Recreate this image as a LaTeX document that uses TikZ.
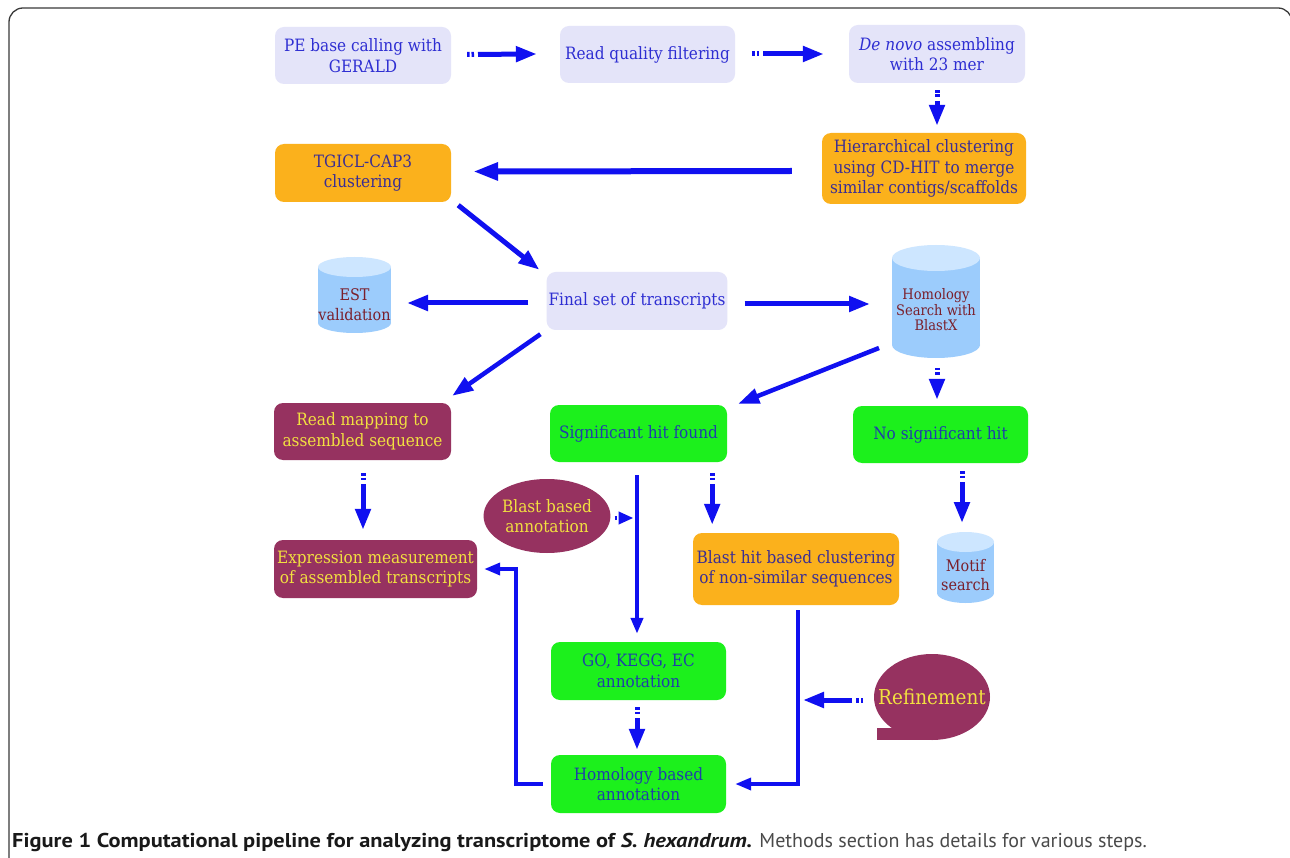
\documentclass[tikz,border=0pt]{standalone}
\usepackage{fontspec}
\setmainfont{DejaVu Serif}[FakeStretch=0.9]
\newfontfamily\capfont{PT Sans}
\newfontfamily\capwide{PT Sans}[FakeStretch=1.12]
\usetikzlibrary{arrows.meta,calc,shapes.geometric}
\definecolor{lav}{HTML}{E4E4F9}
\definecolor{lavtext}{HTML}{2E2ED2}
\definecolor{org}{HTML}{FBB11C}
\definecolor{orgtext}{HTML}{3B2E93}
\definecolor{grn}{HTML}{1CF01C}
\definecolor{grntext}{HTML}{1F3FA8}
\definecolor{mar}{HTML}{963260}
\definecolor{martext}{HTML}{F2E040}
\definecolor{cylbody}{HTML}{9CCCFC}
\definecolor{cyltop}{HTML}{CDE6FF}
\definecolor{cyltext}{HTML}{7A1F2B}
\definecolor{arrblue}{HTML}{1010F0}
\definecolor{framecol}{HTML}{3A3A3A}
\definecolor{capgray}{HTML}{4A4A4A}
\newcommand\drawcyl[5]{%
  \fill[cylbody] (#1,#3+#5) rectangle (#2,#4-#5);
  \fill[cylbody] ({(#1+#2)/2},#4-#5) ellipse [x radius={(#2-#1)/2}, y radius=#5];
  \fill[cyltop] ({(#1+#2)/2},#3+#5) ellipse [x radius={(#2-#1)/2}, y radius=#5];}
\begin{document}
\begin{tikzpicture}[x=1pt,y=-1pt,
  box/.style={rounded corners=9pt, align=center, inner sep=2pt,
    font=\fontsize{17}{20.5}\selectfont},
  lavbox/.style={box, fill=lav, text=lavtext},
  orgbox/.style={box, fill=org, text=orgtext},
  grnbox/.style={box, fill=grn, text=grntext},
  marbox/.style={box, fill=mar, text=martext},
  cyltxt/.style={align=center, text=cyltext, inner sep=1pt},
  conn/.style={draw=arrblue, line width=5pt, -{Triangle[length=21pt,width=15pt]}},
  thinconn/.style={draw=arrblue, line width=3.6pt, -{Triangle[length=16pt,width=12pt]}},
  dtail/.style={dash pattern=on 2.5pt off 1.8pt on 2.5pt off 4pt on 3000pt off 1pt},
]
\useasboundingbox (0,0) rectangle (1290,858);
\fill[white] (0,0) rectangle (1290,858);
\draw[framecol, line width=1.3pt, rounded corners=14pt] (9,866) -- (9,8) -- (1292,8) -- (1292,866);

% cylinders
\drawcyl{318}{391}{257}{333}{10}
\drawcyl{892}{980}{245}{358}{13}
\drawcyl{937}{994}{532}{603}{10}

% refinement bubble
\fill[mar] (932,697) ellipse [x radius=58, y radius=43];
\fill[mar] (877,728) rectangle (932,740);

% nodes
\node[lavbox, minimum width=176pt, minimum height=57pt] (n1) at (363,55.5) {PE base calling with\\GERALD};
\node[lavbox, minimum width=175pt, minimum height=57pt] (n2) at (647.5,54.5) {Read quality filtering};
\node[lavbox, minimum width=176pt, minimum height=58pt] (n3) at (937,54) {\textit{De novo} assembling\\with 23 mer};
\node[orgbox, minimum width=204pt, minimum height=71pt] (n4) at (924,168.5) {Hierarchical clustering\\using CD-HIT to merge\\similar contigs/scaffolds};
\node[orgbox, minimum width=176pt, minimum height=58pt] (n5) at (363,173) {TGICL-CAP3\\clustering};
\node[lavbox, minimum width=176pt, minimum height=58pt] (n6) at (637,301) {Final set of transcripts};
\node[cyltxt, font=\fontsize{16}{20}\selectfont] (est) at (354.5,305) {EST\\validation};
\node[cyltxt, font=\fontsize{14.5}{15.5}\selectfont] (hom) at (936,310) {Homology\\Search with\\BlastX};
\node[marbox, minimum width=177pt, minimum height=57pt] (n7) at (362.5,431.5) {Read mapping to\\assembled sequence};
\node[grnbox, minimum width=177pt, minimum height=57pt] (n8) at (638.5,433.5) {Significant hit found};
\node[grnbox, minimum width=175pt, minimum height=57pt] (n9) at (940.5,434.5) {No significant hit};
\node[ellipse, fill=mar, text=martext, align=center, inner sep=0pt, minimum width=102pt, minimum height=74pt, font=\fontsize{17}{20}\selectfont] (blast) at (547,516) {Blast based\\annotation};
\node[marbox, minimum width=203pt, minimum height=58pt] (n10) at (375.5,569) {Expression measurement\\of assembled transcripts};
\node[orgbox, minimum width=206pt, minimum height=72pt] (n11) at (796,569) {Blast hit based clustering\\of non-similar sequences};
\node[cyltxt, font=\fontsize{16}{19.5}\selectfont] (motif) at (965.5,575) {Motif\\search};
\node[grnbox, minimum width=175pt, minimum height=58pt] (n12) at (638.5,671) {GO, KEGG, EC\\annotation};
\node[grnbox, minimum width=175pt, minimum height=58pt] (n13) at (638.5,784) {Homology based\\annotation};
\node[text=martext, inner sep=0pt, font=\fontsize{20.5}{24}\selectfont] (refine) at (932,697) {Refinement};

% connectors
\draw[conn,dtail] ($(n1.east)+(16,-1)$) -- ($(n2.west)+(-23,-0.5)$);
\draw[conn,dtail] ($(n2.east)+(17,-0.5)$) -- ($(n3.west)+(-25,0)$);
\draw[conn,dtail] ($(n3.south)+(0,7)$) -- ($(n3.south |- n4.north)+(0,-7)$);
\draw[conn, line width=6pt, -{Triangle[length=25pt,width=17pt]}] ($(n4.west)+(-30,2.5)$) -- ($(n5.east)+(22,-1.5)$);
\draw[conn] ($(n5.south east)+(7,3)$) -- ($(n6.north west)+(-7,-2)$);
\draw[conn] ($(n6.west)+(-18,2)$) -- ($(est.center)+(52.5,-2)$);
\draw[conn] ($(n6.east)+(17,3)$) -- ($(hom.center)+(-66,-6)$);
\draw[conn, line width=4.5pt] ($(n6.south west)+(-6,4)$) -- ($(n7.north east)+(1,-7)$);
\draw[conn, line width=4.5pt] ($(hom.center)+(-57,38)$) -- ($(n8.north east)+(11,-1)$);
\draw[conn,dtail] ($(hom.center)+(1,58)$) -- ($(n9.north)+(-3.5,-6)$);
\draw[conn,dtail] ($(n7.south)+(0.5,13)$) -- ($(n7.south |- n10.north)+(0.5,-10)$);
\draw[thinconn, line width=4pt] ($(n8.south)+(-1.5,13)$) -- ($(n8.south |- n12.north)+(-1.5,-8)$);
\draw[conn, line width=4.5pt, dtail, -{Triangle[length=15pt,width=12pt]}] ($(blast.east)+(4,2)$) -- ($(blast.east -| n8.south)+(-5,2)$);
\draw[conn,dtail] ($(n8.south east)+(-15,11)$) -- ($(n8.south east |- n11.north)+(-15,-8)$);
\draw[conn,dtail] ($(n9.south)+(21.5,8)$) -- ($(motif.center)+(-3.5,-52)$);
\draw[conn,dtail] ($(n12.south)+(-1.5,7)$) -- ($(n12.south |- n13.north)+(-1.5,-5)$);
\draw[thinconn] ($(n11.south)+(2,5)$) |- ($(n13.east)+(9,0)$);
\draw[conn,dtail] ($(refine.center)+(-69,3)$) -- ($(refine.center -| n11.south)+(7,3)$);
\draw[thinconn] ($(n13.west)+(-8,0)$) -- ++(-27,0) |- ($(n10.east)+(7,0)$);

% caption
\node[anchor=base west, inner sep=0pt, font=\capfont\fontsize{20}{24}\selectfont] (cap) at (12,847)
  {{\capwide\bfseries\color{black!90}Figure 1 Computational pipeline for analyzing transcriptome of \textit{S. hexandrum.}} {\color{capgray}Methods section has details for various steps.}};
\end{tikzpicture}
\end{document}
